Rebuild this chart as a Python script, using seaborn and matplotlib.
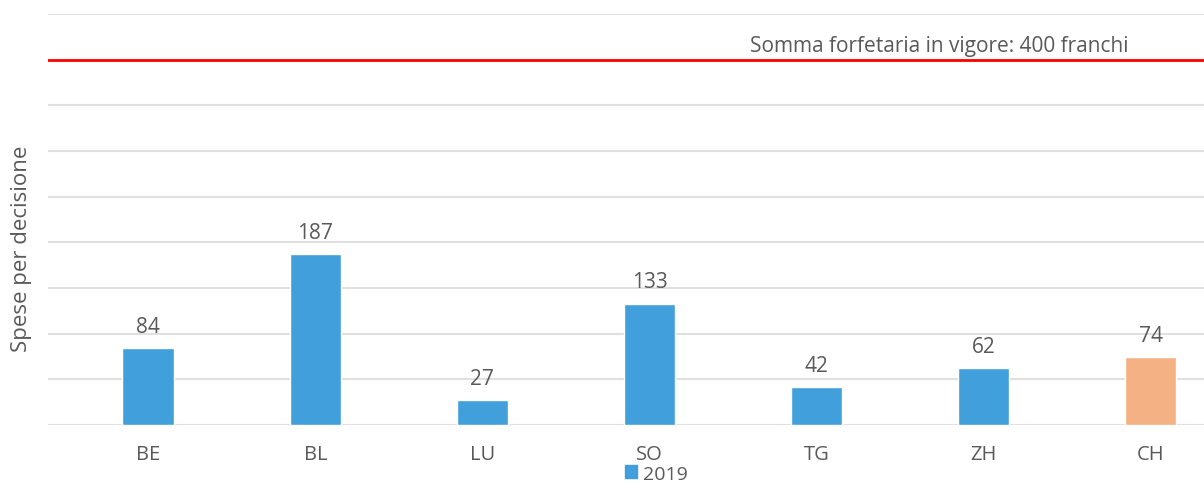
import matplotlib
matplotlib.use("Agg")
import matplotlib.pyplot as plt
import seaborn as sns
import pandas as pd
from matplotlib.patches import Patch

categories = ["BE", "BL", "LU", "SO", "TG", "ZH", "CH"]
values = [84, 187, 27, 133, 42, 62, 74]
groups = ["2019", "2019", "2019", "2019", "2019", "2019", "CH"]
flat_rate = 400
flat_rate_label = "Somma forfetaria in vigore: 400 franchi"
y_label = "Spese per decisione"
legend_label = "2019"

blue = "#41A0DC"
orange = "#F4B183"
grey_text = "#595959"

sns.set_theme(style="white")
plt.rcParams["font.family"] = ["Open Sans", "DejaVu Sans"]

df = pd.DataFrame({"cat": categories, "val": values, "grp": groups})

fig = plt.figure(figsize=(12.04, 4.85), dpi=100)
ax = fig.add_axes([0.04, 0.1216, 0.96, 0.8474])

sns.barplot(data=df, x="cat", y="val", hue="grp",
            palette={"2019": blue, "CH": orange},
            width=0.31, dodge=False, legend=False, ax=ax, saturation=1)

ax.set_ylim(0, 450)
ax.set_xlim(-0.6, 6.32)
ax.set_yticks(range(0, 451, 50))
ax.yaxis.grid(True, color="#E0E0E0", linewidth=1.5)
ax.set_axisbelow(True)
ax.set_yticklabels([])
ax.tick_params(axis="y", length=0)
ax.tick_params(axis="x", length=0, labelsize=14.5, colors=grey_text, pad=14)
for s in ax.spines.values():
    s.set_visible(False)

for i, v in enumerate(values):
    ax.annotate(str(v), (i, v), xytext=(0, 8), textcoords="offset points",
                ha="center", va="bottom", fontsize=15, color=grey_text)

ax.axhline(flat_rate, color="#FF0000", linewidth=2)
ax.text(3.6, flat_rate + 4, flat_rate_label, ha="left", va="bottom",
        fontsize=15, color=grey_text)

ax.set_xlabel("")
ax.set_ylabel(y_label, fontsize=16, color=grey_text)
ax.yaxis.set_label_coords(-0.014, 0.43)

fig.legend(handles=[Patch(color=blue, label=legend_label)],
           loc="lower center", bbox_to_anchor=(0.545, -0.025), frameon=False,
           fontsize=14, labelcolor=grey_text, handlelength=0.6,
           handleheight=0.6, handletextpad=0.3, borderpad=0.2)

fig.savefig("out.png", dpi=100)
